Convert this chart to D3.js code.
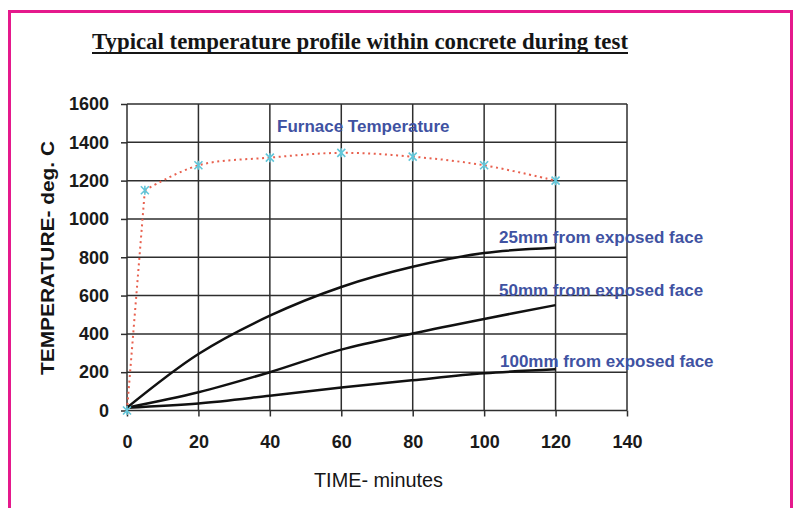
<!DOCTYPE html>
<html>
<head>
<meta charset="utf-8">
<script src="https://cdn.jsdelivr.net/npm/d3@7"></script>
<style>
  body { margin: 0; background: #ffffff; }
  svg { display: block; }
  .tick text { font-family: "Liberation Sans", Arial, sans-serif; font-size: 18px; font-weight: bold; fill: #1a1a1a; }
  .label { font-family: "Liberation Sans", Arial, sans-serif; font-weight: bold; font-size: 17px; fill: #4052a2; }
</style>
</head>
<body>
<svg id="chart" width="799" height="508"></svg>
<script>
// values
const times = [0, 20, 40, 60, 80, 100, 120];
const furnaceTimes = [0, 5, 20, 40, 60, 80, 100, 120];
const furnaceTemps = [0, 1150, 1280, 1320, 1345, 1325, 1280, 1200];
const temp25mm = [15, 295, 495, 645, 750, 822, 850];
const temp50mm = [15, 95, 200, 318, 402, 478, 550];
const temp100mm = [15, 37, 77, 120, 158, 194, 215];
const xTicks = [0, 20, 40, 60, 80, 100, 120, 140];
const yTicks = [0, 200, 400, 600, 800, 1000, 1200, 1400, 1600];
const seriesLabels = ["25mm from exposed face", "50mm from exposed face", "100mm from exposed face"];

const svg = d3.select("svg#chart");

// pink frame
svg.append("rect")
  .attr("x", 0).attr("y", 0).attr("width", 799).attr("height", 508)
  .attr("fill", "#ffffff");
svg.append("path")
  .attr("d", "M9.5,520 L9.5,11.5 L791.5,11.5 L791.5,520")
  .attr("fill", "none")
  .attr("stroke", "#e5198c")
  .attr("stroke-width", 3);

const x = d3.scaleLinear().domain([0, 140]).range([127, 627]);
const y = d3.scaleLinear().domain([0, 1600]).range([410.5, 104]);

// title
svg.append("text")
  .attr("x", 92).attr("y", 49)
  .attr("textLength", 536)
  .attr("lengthAdjust", "spacingAndGlyphs")
  .style("font-family", "'Liberation Serif', 'Times New Roman', serif")
  .style("font-weight", "bold")
  .style("font-size", "23px")
  .style("fill", "#151515")
  .text("Typical temperature profile within concrete during test");
svg.append("line")
  .attr("x1", 92).attr("x2", 628).attr("y1", 53).attr("y2", 53)
  .attr("stroke", "#151515").attr("stroke-width", 2);

// grid
const grid = svg.append("g").attr("class", "grid");
grid.selectAll("line.h")
  .data(yTicks)
  .enter()
  .append("line")
  .attr("class", "h")
  .attr("x1", x(0)).attr("x2", x(140))
  .attr("y1", d => y(d)).attr("y2", d => y(d))
  .attr("stroke", "#2e2e2e").attr("stroke-width", 1.5);
grid.selectAll("line.v")
  .data(xTicks)
  .enter()
  .append("line")
  .attr("class", "v")
  .attr("x1", d => x(d)).attr("x2", d => x(d))
  .attr("y1", y(0)).attr("y2", y(1600))
  .attr("stroke", "#2e2e2e").attr("stroke-width", 1.5);

// axes
const xAxis = svg.append("g")
  .attr("transform", "translate(0," + y(0) + ")")
  .call(d3.axisBottom(x).tickValues(xTicks).tickSize(6).tickPadding(19));
const yAxis = svg.append("g")
  .attr("transform", "translate(" + x(0) + ",0)")
  .call(d3.axisLeft(y).tickValues(yTicks).tickFormat(d3.format("d")).tickSize(6).tickPadding(12));
[xAxis, yAxis].forEach(function(a) {
  a.select(".domain").remove();
  a.selectAll(".tick line").attr("stroke", "#2e2e2e").attr("stroke-width", 1.5);
});

// axis titles
svg.append("text")
  .attr("x", 314).attr("y", 487)
  .attr("textLength", 129)
  .attr("lengthAdjust", "spacingAndGlyphs")
  .style("font-family", "'Liberation Sans', Arial, sans-serif")
  .style("font-size", "20px")
  .style("fill", "#151515")
  .text("TIME- minutes");
svg.append("text")
  .attr("transform", "translate(54,258) rotate(-90)")
  .attr("text-anchor", "middle")
  .attr("textLength", 234)
  .attr("lengthAdjust", "spacingAndGlyphs")
  .style("font-family", "'Liberation Sans', Arial, sans-serif")
  .style("font-weight", "bold")
  .style("font-size", "19px")
  .style("fill", "#151515")
  .text("TEMPERATURE- deg. C");

// lines
const line = d3.line()
  .x(d => x(d[0]))
  .y(d => y(d[1]))
  .curve(d3.curveCatmullRom.alpha(0.5));

[temp25mm, temp50mm, temp100mm].forEach(function(vals) {
  svg.append("path")
    .datum(times.map((t, i) => [t, vals[i]]))
    .attr("d", line)
    .attr("fill", "none")
    .attr("stroke", "#111111")
    .attr("stroke-width", 2.5);
});

// furnace: straight run-up from ignition, smoothed afterwards
const furnace = furnaceTimes.map((t, i) => [t, furnaceTemps[i]]);
const straight = d3.line().x(d => x(d[0])).y(d => y(d[1]));
[[furnace.slice(0, 2), straight], [furnace.slice(1), line]].forEach(function(p) {
  svg.append("path")
    .datum(p[0])
    .attr("d", p[1])
    .attr("fill", "none")
    .attr("stroke", "#e8614f")
    .attr("stroke-width", 2)
    .attr("stroke-dasharray", "2,3.6");
});

// star markers
svg.selectAll("path.marker")
  .data(furnace)
  .enter()
  .append("path")
  .attr("class", "marker")
  .attr("transform", d => "translate(" + x(d[0]) + "," + y(d[1]) + ")")
  .attr("d", "M-4,-4L4,4M-4,4L4,-4M0,-4.5L0,4.5")
  .attr("stroke", "#62c6d9")
  .attr("stroke-width", 1.6);

// annotations
svg.append("text").attr("class", "label")
  .attr("x", 277).attr("y", 132)
  .text("Furnace Temperature");
const labelY = [243, 296, 367];
svg.selectAll("text.series")
  .data(seriesLabels)
  .enter()
  .append("text")
  .attr("class", "label series")
  .attr("x", (d, i) => i === 2 ? 500 : 499)
  .attr("y", (d, i) => labelY[i])
  .text(d => d);
</script>
</body>
</html>
